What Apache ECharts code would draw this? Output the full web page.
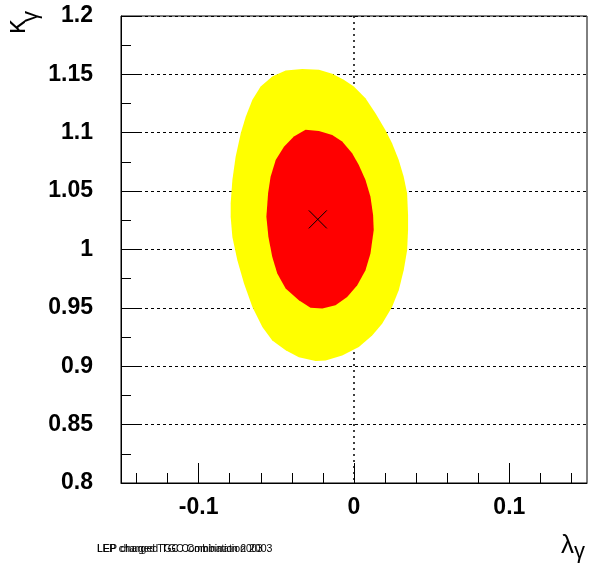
<!DOCTYPE html>
<html>
<head>
<meta charset="utf-8">
<script src="https://cdn.jsdelivr.net/npm/echarts@6/dist/echarts.min.js"></script>
<style>
html,body{margin:0;padding:0;background:#fff;}
#chart{width:590px;height:574px;}
</style>
</head>
<body>
<div id="chart"></div>
<script>
// ---- data ----
const lambdaRange = [-0.15, 0.15];
const kappaRange = [0.8, 1.2];
const xMajorTicks = [-0.1, 0, 0.1];
const xMinorTicks = [-0.14, -0.12, -0.1, -0.08, -0.06, -0.04, -0.02, 0, 0.02, 0.04, 0.06, 0.08, 0.1, 0.12, 0.14];
const yMajorTicks = [0.8, 0.85, 0.9, 0.95, 1, 1.05, 1.1, 1.15, 1.2];
const yMinorTicks = [0.825, 0.875, 0.925, 0.975, 1.025, 1.075, 1.125, 1.175];

// 95% CL contour (yellow), [lambda_gamma, kappa_gamma]
const contour95 = [
  [-0.0440, 1.1533], [-0.0333, 1.1545], [-0.0226, 1.1539], [-0.0140, 1.1505],
  [-0.0066, 1.1453], [-0.0001, 1.1396], [0.0074, 1.1296], [0.0138, 1.1167],
  [0.0202, 1.1024], [0.0245, 1.0910], [0.0288, 1.0767], [0.0320, 1.0623],
  [0.0342, 1.0481], [0.0348, 1.0294], [0.0348, 1.0166], [0.0342, 0.9994],
  [0.0320, 0.9822], [0.0288, 0.9651], [0.0245, 0.9507], [0.0181, 0.9365],
  [0.0117, 0.9264], [0.0031, 0.9164], [-0.0076, 0.9093], [-0.0183, 0.9050],
  [-0.0247, 0.9044], [-0.0355, 0.9078], [-0.0440, 0.9136], [-0.0526, 0.9221],
  [-0.0590, 0.9336], [-0.0654, 0.9507], [-0.0708, 0.9708], [-0.0751, 0.9908],
  [-0.0783, 1.0108], [-0.0794, 1.0280], [-0.0794, 1.0395], [-0.0783, 1.0595],
  [-0.0762, 1.0795], [-0.0729, 1.0996], [-0.0697, 1.1138], [-0.0654, 1.1282],
  [-0.0601, 1.1396], [-0.0526, 1.1482]
];
// 68% CL contour (red)
const contour68 = [
  [-0.0312, 1.1026], [-0.0226, 1.1015], [-0.0140, 1.0981], [-0.0076, 1.0924],
  [-0.0012, 1.0824], [0.0031, 1.0724], [0.0074, 1.0595], [0.0106, 1.0452],
  [0.0123, 1.0294], [0.0127, 1.0166], [0.0106, 0.9966], [0.0074, 0.9822],
  [0.0021, 0.9694], [-0.0044, 0.9593], [-0.0119, 0.9522], [-0.0204, 0.9494],
  [-0.0280, 0.9502], [-0.0355, 0.9565], [-0.0440, 0.9665], [-0.0494, 0.9794],
  [-0.0526, 0.9936], [-0.0551, 1.0108], [-0.0564, 1.0280], [-0.0553, 1.0481],
  [-0.0537, 1.0623], [-0.0504, 1.0767], [-0.0451, 1.0881], [-0.0387, 1.0967]
];
const bestFit = [[-0.0233, 1.0258]];
const footnote = 'LEP charged TGC Combination 2003';

// ---- chart ----
const chart = echarts.init(document.getElementById('chart'), null, {renderer: 'canvas'});
const labelFont = {fontFamily: 'Liberation Sans', fontWeight: 'bold', fontSize: 23, color: '#000'};

function polygonRenderer(points, color) {
  return function (params, api) {
    if (params.dataIndex !== 0) return null;
    return {
      type: 'polygon',
      shape: {points: points.map(p => api.coord(p))},
      style: {fill: color, stroke: null}
    };
  };
}

const option = {
  animation: false,
  backgroundColor: '#fff',
  grid: {left: 121, right: 3, top: 16, bottom: 91, show: true, borderColor: '#000', borderWidth: 1, backgroundColor: '#fff'},
  xAxis: [{
    type: 'value', min: lambdaRange[0], max: lambdaRange[1], interval: 0.05, position: 'bottom',
    axisLine: {show: true, onZero: false, lineStyle: {color: '#000', width: 1}},
    axisTick: {show: true, inside: true, length: 20, customValues: xMajorTicks, lineStyle: {color: '#000', width: 1}},
    axisLabel: Object.assign({show: true, margin: 13, customValues: xMajorTicks}, labelFont),
    splitLine: {show: true, lineStyle: {color: ['rgba(0,0,0,0)', '#000'], type: [2, 4], width: 1.5}}
  }, {
    type: 'value', min: lambdaRange[0], max: lambdaRange[1], interval: 0.05, position: 'bottom', offset: 0,
    axisLine: {show: false, onZero: false},
    axisTick: {show: true, inside: true, length: 10, customValues: xMinorTicks, lineStyle: {color: '#000', width: 1}},
    axisLabel: {show: false},
    splitLine: {show: false}
  }],
  yAxis: [{
    type: 'value', min: kappaRange[0], max: kappaRange[1], interval: 0.05, position: 'left',
    axisLine: {show: true, onZero: false, lineStyle: {color: '#000', width: 1}},
    axisTick: {show: true, inside: true, length: 20, customValues: yMajorTicks, lineStyle: {color: '#000', width: 1}},
    axisLabel: Object.assign({show: true, margin: 28, customValues: yMajorTicks}, labelFont),
    splitLine: {show: true, lineStyle: {color: '#000', type: [3, 3], width: 1}}
  }, {
    type: 'value', min: kappaRange[0], max: kappaRange[1], interval: 0.05, position: 'left', offset: 0,
    axisLine: {show: false, onZero: false},
    axisTick: {show: true, inside: true, length: 10, customValues: yMinorTicks, lineStyle: {color: '#000', width: 1}},
    axisLabel: {show: false},
    splitLine: {show: false}
  }],
  series: [{
    type: 'custom', name: '95% CL', xAxisIndex: 0, yAxisIndex: 0, z: 2,
    data: contour95, encode: {x: 0, y: 1},
    renderItem: polygonRenderer(contour95, '#ffff00')
  }, {
    type: 'custom', name: '68% CL', xAxisIndex: 0, yAxisIndex: 0, z: 3,
    data: contour68, encode: {x: 0, y: 1},
    renderItem: polygonRenderer(contour68, '#ff0000')
  }, {
    type: 'custom', name: 'best fit', xAxisIndex: 0, yAxisIndex: 0, z: 4,
    data: bestFit, encode: {x: 0, y: 1},
    renderItem: function (params, api) {
      const c = api.coord([api.value(0), api.value(1)]);
      const h = 9;
      const st = {stroke: '#000', lineWidth: 1};
      return {type: 'group', children: [
        {type: 'line', shape: {x1: c[0] - h, y1: c[1] - h, x2: c[0] + h, y2: c[1] + h}, style: st},
        {type: 'line', shape: {x1: c[0] - h, y1: c[1] + h, x2: c[0] + h, y2: c[1] - h}, style: st}
      ]};
    }
  }],
  graphic: [
    {type: 'text', x: 17.5, y: 34, rotation: Math.PI / 2,
      style: {text: 'κ', fontFamily: 'Liberation Sans', fontSize: 28, fill: '#000', align: 'left', verticalAlign: 'middle'}},
    {type: 'text', x: 30.5, y: 22, rotation: Math.PI / 2,
      style: {text: 'γ', fontFamily: 'Liberation Sans', fontSize: 22, fill: '#000', align: 'left', verticalAlign: 'middle'}},
    {type: 'text', x: 561, y: 546,
      style: {text: 'λ', fontFamily: 'Liberation Sans', fontSize: 26, fill: '#000', align: 'left', verticalAlign: 'middle'}},
    {type: 'text', x: 574, y: 552,
      style: {text: 'γ', fontFamily: 'Liberation Sans', fontSize: 22, fill: '#000', align: 'left', verticalAlign: 'middle'}},
    {type: 'text', x: 97, y: 549.5,
      style: {text: footnote, fontFamily: 'Liberation Sans', fontSize: 10, fill: '#000', align: 'left', verticalAlign: 'middle'}},
    {type: 'text', x: 97, y: 549.5,
      style: {text: footnote, fontFamily: 'Liberation Sans', fontSize: 10.6, fill: '#000', align: 'left', verticalAlign: 'middle'}}
  ]
};
chart.setOption(option);
</script>
</body>
</html>
